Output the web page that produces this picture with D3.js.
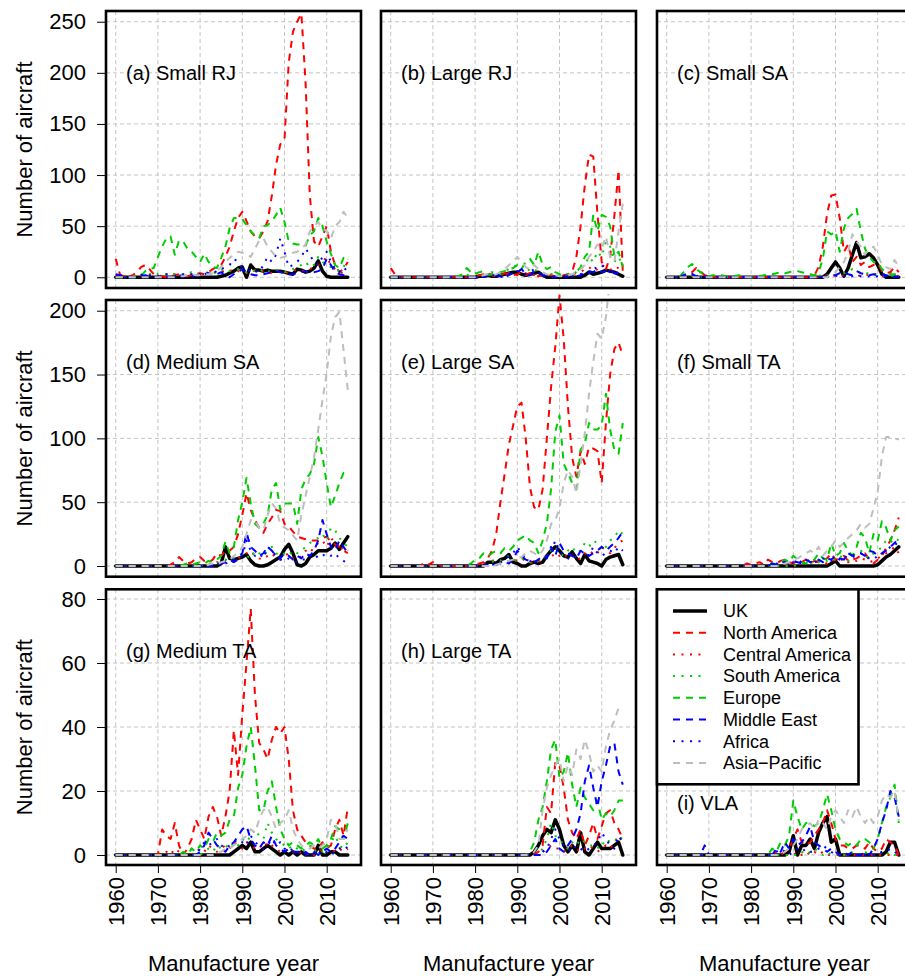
<!DOCTYPE html>
<html>
<head>
<meta charset="utf-8">
<script src="https://cdn.jsdelivr.net/npm/d3@7"></script>
<style>
  body { margin: 0; background: #fff; }
  svg { display: block; }
  text { font-family: "Liberation Sans", Arial, Helvetica, sans-serif; fill: #000; }
</style>
</head>
<body>
<svg id="chart" width="905" height="976"></svg>
<script>
// ---------------------------------------------------------------------------
// Aircraft manufactured per year, by operator region and aircraft size class
// ---------------------------------------------------------------------------
const years = [1960,1961,1962,1963,1964,1965,1966,1967,1968,1969,
               1970,1971,1972,1973,1974,1975,1976,1977,1978,1979,
               1980,1981,1982,1983,1984,1985,1986,1987,1988,1989,
               1990,1991,1992,1993,1994,1995,1996,1997,1998,1999,
               2000,2001,2002,2003,2004,2005,2006,2007,2008,2009,
               2010,2011,2012,2013,2014,2015];

const regions = ["UK", "North America", "Central America", "South America",
                 "Europe", "Middle East", "Africa", "Asia\u2212Pacific"];

const panelTitles = ["(a) Small RJ", "(b) Large RJ", "(c) Small SA",
                     "(d) Medium SA", "(e) Large SA", "(f) Small TA",
                     "(g) Medium TA", "(h) Large TA", "(i) VLA"];

const xTicks = [1960, 1970, 1980, 1990, 2000, 2010];
const yTicksTop = [0, 50, 100, 150, 200, 250];
const yTicksMiddle = [0, 50, 100, 150, 200];
const yTicksBottom = [0, 20, 40, 60, 80];

// Each class: one series per region, in the order of `regions`, 1960..2015
const smallRJ = [
  [0,0,0,0,0,0,0,0,0,0, 0,0,0,0,0,0,0,0,0,0, 0,0,0,0,0,1,2,4,6,9, 10,0,12,7,7,6,7,6,6,6, 5,4,3,8,7,5,6,9,16,6, 1,0,0,0,0,0],
  [18,3,0,0,2,5,10,12,8,3, 2,1,0,1,2,3,2,1,2,3, 4,3,5,8,10,12,20,30,45,58, 64,55,45,40,38,45,55,80,110,130, 135,210,240,250,258,190,80,35,30,40, 50,25,12,5,8,15],
  [2,3,1,0,0,1,2,3,2,1, 1,0,1,2,3,2,1,2,3,2, 4,3,5,4,6,5,7,6,8,6, 5,4,6,7,5,6,5,4,6,5, 4,5,6,8,6,7,8,10,12,15, 20,12,8,5,4,6],
  [0,0,0,0,1,2,3,2,3,5, 3,2,3,4,3,2,3,4,5,4, 3,5,4,3,6,8,5,6,7,8, 6,5,7,6,5,8,6,5,7,6, 5,6,8,10,12,15,10,12,20,15, 12,10,8,6,10,18],
  [0,0,0,0,0,0,1,6,8,9, 20,30,38,40,22,36,35,28,25,20, 15,23,15,10,9,19,30,48,58,58, 57,51,45,41,38,50,51,55,61,68, 54,35,33,32,32,31,41,45,58,50, 35,23,12,9,19,15],
  [3,2,1,0,0,0,1,2,1,0, 0,1,0,0,1,2,1,0,1,2, 2,3,4,3,3,5,2,0,3,5, 8,5,3,2,2,3,4,5,6,5, 4,3,3,4,5,6,4,5,6,8, 18,12,5,3,2,2],
  [1,0,0,0,0,1,2,3,2,1, 1,2,3,2,1,2,3,2,3,4, 3,5,4,6,5,8,10,12,18,15, 10,8,5,6,5,12,20,15,22,38, 25,10,12,15,20,28,22,15,12,20, 25,15,8,5,10,5],
  [0,0,0,0,0,0,0,0,0,0, 0,0,0,0,0,1,1,2,3,2, 2,3,3,4,6,10,15,19,22,25, 24,23,20,28,36,38,30,25,20,19, 20,22,24,25,28,32,45,50,54,48, 45,38,50,54,64,58]
];

const largeRJ = [
  [0,0,0,0,0,0,0,0,0,0, 0,0,0,0,0,0,0,0,0,0, 0,1,1,2,1,1,2,3,4,5, 5,3,2,3,4,5,2,0,0,0, 0,0,0,0,0,0,2,5,3,4, 5,7,6,5,3,1],
  [9,3,0,0,0,0,0,0,0,0, 0,0,0,0,0,0,0,0,0,0, 1,2,3,5,2,1,2,4,3,2, 3,5,2,4,3,1,2,3,2,1, 2,2,3,5,20,50,90,120,118,62, 15,8,20,60,105,5],
  [0,0,0,0,0,0,0,0,0,0, 0,0,0,0,0,0,0,0,0,0, 0,1,2,3,2,1,3,2,4,3, 2,3,4,3,2,1,2,1,2,3, 1,2,2,3,4,5,8,10,6,8, 12,10,8,6,10,8],
  [0,0,0,0,0,0,0,0,0,0, 0,0,0,0,0,0,0,0,2,3, 4,3,2,3,5,4,3,6,8,10, 12,8,10,6,8,5,3,2,3,4, 2,3,2,4,5,8,12,20,15,25, 20,35,30,15,20,12],
  [0,0,0,0,0,0,0,0,0,0, 0,0,0,0,0,0,1,3,9,5, 3,5,6,2,3,4,5,6,8,9, 12,8,15,18,12,25,12,8,10,5, 3,2,3,2,5,10,20,25,61,45, 61,59,50,20,25,10],
  [0,0,0,0,0,0,0,0,0,0, 0,0,0,0,0,0,0,0,0,0, 0,0,1,2,1,2,1,0,2,4, 5,8,3,2,6,4,2,1,0,1, 0,0,1,2,1,2,4,6,5,8, 5,6,8,4,3,1],
  [0,0,0,0,0,0,0,0,0,0, 0,0,0,0,0,0,0,0,0,0, 0,0,0,1,2,1,0,2,3,4, 6,4,3,5,8,5,3,2,1,0, 0,1,2,1,2,3,5,4,8,10, 12,8,5,6,4,2],
  [0,0,0,0,0,0,0,0,0,0, 0,0,0,0,0,0,0,0,0,0, 0,1,2,3,2,3,5,8,12,15, 20,15,10,8,12,8,5,3,2,2, 1,1,2,3,5,8,12,20,25,32, 28,40,20,15,45,72]
];

const smallSA = [
  [0,0,0,0,0,0,0,0,0,0, 0,0,0,0,0,0,0,0,0,0, 0,0,0,0,0,0,0,0,0,0, 0,0,0,0,0,0,0,0,3,9, 15,9,1,9,22,34,19,20,23,19, 12,3,0,0,0,0],
  [0,0,0,0,0,2,5,9,6,2, 1,0,0,0,0,0,0,0,0,0, 0,0,0,0,0,0,0,0,0,0, 0,0,0,0,0,2,10,30,62,80, 81,58,25,32,15,20,12,15,10,12, 14,6,4,5,10,5],
  [0,0,0,0,0,0,0,3,5,2, 0,0,0,0,0,0,0,0,0,0, 0,0,0,0,0,0,0,0,0,0, 0,0,0,0,0,0,0,1,2,1, 2,1,2,3,2,1,2,3,2,4, 2,1,2,5,2,1],
  [0,0,0,0,0,2,1,0,0,0, 0,0,0,0,0,0,0,0,0,0, 0,0,0,0,0,0,0,0,0,0, 0,0,0,0,0,0,1,3,2,1, 2,3,4,5,8,6,4,5,3,2, 2,3,3,2,1,1],
  [0,0,0,0,5,10,13,8,5,2, 1,2,1,2,1,0,1,2,1,0, 0,0,1,2,3,3,4,5,4,5, 6,6,5,4,3,2,5,18,45,42, 45,25,48,58,62,67,45,28,20,15, 15,8,5,3,3,3],
  [0,0,0,0,2,4,3,1,2,1, 0,0,0,0,0,0,0,0,0,0, 0,0,0,0,0,0,0,0,0,0, 0,0,0,0,0,0,0,0,1,2, 2,4,5,3,2,6,4,3,2,3, 2,3,2,1,1,0],
  [0,0,0,0,0,1,3,1,0,0, 0,0,0,0,0,0,0,0,0,0, 0,0,0,0,0,0,0,0,0,0, 0,0,0,0,0,0,0,0,0,1, 1,3,1,0,1,2,1,0,1,0, 1,0,1,0,0,0],
  [0,0,0,0,0,0,0,0,0,0, 0,0,0,0,0,0,0,0,0,0, 0,0,0,0,0,0,0,0,0,0, 0,0,0,0,0,0,0,0,0,2, 5,10,15,25,42,35,30,22,28,30, 22,12,10,8,17,10]
];

const mediumSA = [
  [0,0,0,0,0,0,0,0,0,0, 0,0,0,0,0,0,0,0,0,0, 0,0,0,0,0,2,15,6,5,6, 7,9,4,1,0,0,1,3,5,7, 13,17,10,1,0,2,7,9,12,12, 12,14,18,13,18,23],
  [0,0,0,0,0,0,0,0,0,0, 0,0,0,1,3,7,4,2,3,6, 7,4,3,5,10,8,12,12,15,25, 40,57,44,36,30,26,33,38,44,43, 33,31,27,23,22,21,20,20,20,22, 23,19,17,15,12,10],
  [0,0,0,0,0,0,0,0,0,0, 0,0,0,0,0,0,0,0,0,0, 0,1,2,1,3,2,4,5,3,6, 8,10,12,8,6,5,8,10,6,5, 8,10,6,5,8,12,10,15,18,20, 15,22,18,12,15,12],
  [0,0,0,0,0,0,0,0,0,0, 0,0,0,0,0,0,0,0,0,0, 0,1,1,2,2,3,5,4,6,8, 10,8,6,12,10,8,12,15,10,8, 10,12,8,10,12,15,18,20,22,25, 20,30,28,22,18,15],
  [0,0,0,0,0,0,0,0,0,0, 0,0,0,0,0,0,1,2,1,2, 3,2,4,3,5,8,19,10,15,36, 50,69,49,33,30,33,40,60,65,44, 49,49,49,33,60,68,72,80,101,86, 65,46,55,65,73,70],
  [0,0,0,0,0,0,0,0,0,0, 0,0,0,0,0,0,0,0,0,0, 0,0,0,0,1,2,3,5,3,5, 10,26,15,12,8,10,15,12,8,6, 10,8,5,8,6,10,8,12,20,36, 25,15,12,20,15,10],
  [0,0,0,0,0,0,0,0,0,0, 0,0,0,0,0,0,0,0,0,0, 0,0,0,1,2,1,2,3,5,6, 8,20,12,8,10,6,15,12,8,5, 4,6,5,3,5,5,8,10,6,8, 10,8,10,6,4,2],
  [0,0,0,0,0,0,0,0,0,0, 0,0,0,0,0,0,0,0,0,0, 0,0,1,2,1,3,4,5,8,10, 15,25,36,36,30,28,40,49,45,33, 30,28,24,20,40,55,70,85,107,130, 151,180,195,199,169,138]
];

const largeSA = [
  [0,0,0,0,0,0,0,0,0,0, 0,0,0,0,0,0,0,0,0,0, 0,0,0,3,3,2,5,6,9,3, 2,0,0,2,3,2,3,8,12,15, 12,8,7,11,6,2,9,4,3,2, 0,5,7,8,9,1],
  [0,0,0,0,0,0,0,0,3,1, 3,2,0,0,0,0,0,0,0,0, 1,2,3,6,12,25,50,72,95,110, 125,128,100,62,46,44,60,100,140,172, 212,178,125,85,70,90,80,93,92,90, 65,112,150,170,175,165],
  [0,0,0,0,0,0,0,0,0,0, 0,0,0,0,0,0,0,0,0,0, 0,1,2,3,4,5,3,2,4,3, 5,6,4,3,2,3,5,8,10,6, 8,10,6,8,5,6,10,8,12,10, 15,12,10,14,18,20],
  [0,0,0,0,0,0,0,0,0,0, 0,0,0,0,0,0,0,0,0,0, 0,0,1,2,3,5,4,6,8,5, 4,6,5,3,2,4,6,8,12,15, 10,8,12,15,10,12,18,15,20,18, 12,15,20,22,28,25],
  [0,0,0,0,0,0,0,0,0,0, 0,0,0,0,0,0,0,0,0,2, 5,6,10,8,10,12,10,14,12,15, 20,22,24,20,18,10,20,33,60,105, 118,80,73,65,60,91,96,112,107,107, 110,135,107,91,88,112],
  [0,0,0,0,0,0,0,0,0,0, 0,0,0,0,0,0,0,0,0,0, 0,0,0,1,2,1,2,3,2,5, 12,8,5,4,3,5,8,6,15,8, 18,12,10,8,6,12,10,8,10,12, 15,12,15,18,22,27],
  [0,0,0,0,0,0,0,0,0,0, 0,0,0,0,0,0,0,0,0,0, 0,0,1,2,1,2,3,4,8,10, 15,10,6,4,3,5,6,8,10,20, 12,8,6,5,8,10,12,8,15,10, 8,10,12,10,15,12],
  [0,0,0,0,0,0,0,0,0,0, 0,0,0,0,0,0,0,0,0,0, 0,0,0,0,0,1,2,3,4,5, 6,7,10,12,10,8,12,20,33,36, 45,65,75,70,57,80,104,135,160,182, 178,195,225,260,280,300]
];

const smallTA = [
  [0,0,0,0,0,0,0,0,0,0, 0,0,0,0,0,0,0,0,0,0, 0,0,0,0,0,0,0,0,0,0, 0,0,0,0,0,0,0,0,0,2, 4,0,0,0,0,0,0,0,0,0, 1,4,7,9,12,15],
  [0,0,0,0,0,0,0,0,0,0, 0,0,0,0,0,0,0,0,0,2, 1,2,3,1,5,3,2,4,5,3, 2,4,3,5,2,4,3,5,6,10, 5,6,8,4,5,6,8,10,5,2, 5,8,14,20,28,38],
  [0,0,0,0,0,0,0,0,0,0, 0,0,0,0,0,0,0,0,0,0, 0,0,0,0,0,0,0,0,1,0, 0,1,2,1,3,2,4,3,2,3, 5,4,6,3,5,4,6,5,3,4, 6,8,10,12,15,10],
  [0,0,0,0,0,0,0,0,0,0, 0,0,0,0,0,0,0,0,0,0, 0,0,0,0,0,0,0,0,0,0, 0,1,2,3,2,4,3,5,4,6, 5,8,6,4,8,10,12,8,6,10, 12,15,20,18,22,20],
  [0,0,0,0,0,0,0,0,0,0, 0,0,0,0,0,0,0,0,0,0, 0,0,0,0,0,2,1,3,5,3, 8,5,3,2,4,5,10,6,5,18, 8,10,18,12,8,15,26,22,10,25, 20,35,30,20,28,31],
  [0,0,0,0,0,0,0,0,0,0, 0,0,0,0,0,0,0,0,0,0, 0,0,0,0,1,2,1,3,3,2, 4,3,2,5,3,4,5,3,6,5, 8,6,5,10,8,10,10,8,12,11, 8,10,12,15,18,22],
  [0,0,0,0,0,0,0,0,0,0, 0,0,0,0,0,0,0,0,0,0, 0,0,0,0,1,0,2,1,3,2, 3,2,4,3,5,3,4,6,5,4, 6,5,8,6,7,8,10,8,6,5, 8,10,12,15,18,16],
  [0,0,0,0,0,0,0,0,0,0, 0,0,0,0,0,0,0,0,0,0, 0,0,0,0,0,0,0,1,2,3, 5,6,8,10,12,10,15,8,12,15, 20,15,18,22,25,28,33,30,33,45, 58,86,101,101,100,99]
];

const mediumTA = [
  [0,0,0,0,0,0,0,0,0,0, 0,0,0,0,0,0,0,0,0,0, 0,0,0,0,0,0,0,0,1,2, 3,2,4,1,1,2,3,2,1,0, 1,0,1,0,1,0,0,0,3,0, 0,1,1,0,0,0],
  [0,0,0,0,0,0,0,0,0,0, 0,8,6,5,10,3,0,2,5,11, 8,5,12,15,12,6,12,20,39,25, 44,60,77,50,35,33,30,36,40,38, 40,30,14,8,6,4,3,2,2,4, 2,3,8,11,6,15],
  [0,0,0,0,0,0,0,0,0,0, 0,0,1,0,2,1,0,1,2,1, 2,1,3,2,1,2,3,2,4,3, 2,4,3,2,3,2,4,3,2,1, 1,2,1,0,1,0,1,0,1,2, 3,2,1,2,1,2],
  [0,0,0,0,0,0,0,0,0,0, 0,0,0,0,0,0,0,0,0,0, 0,1,2,1,3,2,3,2,4,3, 5,4,6,8,6,5,10,7,5,4, 3,2,3,2,1,2,3,1,2,1, 2,4,6,3,2,4],
  [0,0,0,0,0,0,0,0,0,0, 0,0,0,0,0,0,1,0,2,1, 3,2,5,4,7,6,7,11,12,21, 25,34,40,28,14,14,20,23,15,8, 5,3,4,3,2,3,4,3,5,2, 3,5,9,8,5,10],
  [0,0,0,0,0,0,0,0,0,0, 0,0,0,0,0,0,0,0,0,0, 1,3,7,5,3,2,1,3,4,6, 8,9,5,3,2,4,3,6,3,2, 1,2,1,1,0,1,0,1,0,1, 2,1,2,4,6,5],
  [0,0,0,0,0,0,0,0,0,0, 0,0,0,0,0,0,0,0,0,0, 2,4,3,4,5,3,2,3,4,5, 4,3,6,4,3,2,3,5,3,4, 2,1,2,1,1,0,1,0,1,0, 1,0,1,2,3,2],
  [0,0,0,0,0,0,0,0,0,0, 0,0,0,0,0,0,0,0,0,0, 0,0,0,0,1,1,2,2,3,4, 5,6,8,7,11,14,15,12,8,10, 11,14,8,5,3,2,2,3,2,3, 5,11,10,5,5,8]
];

const largeTA = [
  [0,0,0,0,0,0,0,0,0,0, 0,0,0,0,0,0,0,0,0,0, 0,0,0,0,0,0,0,0,0,0, 0,0,0,0,1,3,6,8,7,11, 8,3,1,3,1,7,1,0,2,4, 2,2,2,3,4,0],
  [0,0,0,0,0,0,0,0,0,0, 0,0,0,0,0,0,0,0,0,0, 0,0,0,0,0,0,0,0,0,0, 0,0,0,0,0,1,3,15,13,29, 28,21,11,7,5,8,3,6,10,5, 9,13,14,10,8,5],
  [0,0,0,0,0,0,0,0,0,0, 0,0,0,0,0,0,0,0,0,0, 0,0,0,0,0,0,0,0,0,0, 0,0,0,0,0,0,1,2,3,2, 2,1,2,3,2,1,2,3,2,1, 2,3,2,4,6,4],
  [0,0,0,0,0,0,0,0,0,0, 0,0,0,0,0,0,0,0,0,0, 0,0,0,0,0,0,0,0,0,0, 0,0,0,0,0,0,2,5,10,6, 5,3,2,4,3,5,4,3,3,2, 4,3,5,5,4,6],
  [0,0,0,0,0,0,0,0,0,0, 0,0,0,0,0,0,0,0,0,0, 0,0,0,0,0,0,0,0,0,0, 0,0,0,1,4,11,15,23,33,36, 24,26,32,22,15,21,18,16,14,17, 11,13,12,14,17,17],
  [0,0,0,0,0,0,0,0,0,0, 0,0,0,0,0,0,0,0,0,0, 0,0,0,0,0,0,0,0,0,0, 0,0,0,0,0,0,0,1,3,5, 2,1,3,5,8,13,23,28,21,15, 23,28,34,35,26,22],
  [0,0,0,0,0,0,0,0,0,0, 0,0,0,0,0,0,0,0,0,0, 0,0,0,0,0,0,0,0,0,0, 0,0,0,0,0,0,1,2,5,8, 5,3,2,1,3,2,1,2,3,4, 7,5,3,2,6,4],
  [0,0,0,0,0,0,0,0,0,0, 0,0,0,0,0,0,0,0,0,0, 0,0,0,0,0,0,0,0,0,0, 0,0,0,0,1,3,14,21,25,28, 30,23,28,25,33,30,36,32,26,28, 26,34,39,42,46,46]
];

const vla = [
  [0,0,0,0,0,0,0,0,0,0, 0,0,0,0,0,0,0,0,0,0, 0,0,0,0,0,0,0,0,0,1, 6,0,3,3,5,2,7,10,12,4, 5,0,0,0,0,0,0,0,0,0, 0,0,1,4,4,0],
  [0,0,0,0,0,0,0,0,0,0, 0,0,0,0,0,0,0,0,0,0, 0,0,0,0,0,0,1,0,1,2, 5,8,4,3,4,6,8,10,14,10, 5,3,3,2,2,3,3,2,4,2, 1,2,5,4,3,0],
  [0,0,0,0,0,0,0,0,0,0, 0,0,0,0,0,0,0,0,0,0, 0,0,0,0,0,0,0,0,0,0, 0,1,0,1,0,1,0,1,0,0, 0,0,0,0,0,0,0,0,0,0, 0,0,0,0,0,0],
  [0,0,0,0,0,0,0,0,0,0, 0,0,0,0,0,0,0,0,0,0, 0,0,0,0,0,0,0,0,0,0, 0,0,1,0,1,2,1,0,1,0, 0,1,0,0,1,0,0,1,0,0, 0,1,0,1,0,0],
  [0,0,0,0,0,0,0,0,0,0, 0,0,0,0,0,0,0,0,0,0, 0,0,0,0,0,2,1,4,3,6, 17,12,8,10,10,9,10,14,19,14, 8,5,4,3,4,3,5,5,4,2, 5,10,15,18,22,10],
  [0,0,0,0,0,0,0,0,0,3, 0,0,0,0,0,0,0,0,0,0, 0,0,0,0,0,0,2,1,4,2, 5,3,4,6,9,4,3,2,1,2, 1,0,1,0,1,0,0,1,0,2, 5,10,14,20,18,12],
  [0,0,0,0,0,0,0,0,0,0, 0,0,0,0,0,0,0,0,0,0, 0,0,0,0,0,0,1,2,1,0, 1,2,1,2,1,1,2,3,2,1, 0,0,0,0,0,0,0,0,0,0, 0,1,1,2,1,0],
  [0,0,0,0,0,0,0,0,0,0, 0,0,0,0,0,0,0,0,0,0, 0,0,0,0,0,0,0,0,1,2, 3,5,8,9,10,8,11,10,8,12, 14,12,10,14,12,15,12,10,12,10, 12,17,19,18,20,11]
];

const panelSeries = [smallRJ, largeRJ, smallSA, mediumSA, largeSA, smallTA, mediumTA, largeTA, vla];

// ---------------------------------------------------------------------------
// Styling: line colour, dash pattern and width per region
// ---------------------------------------------------------------------------
const regionColor = ["#000000", "#FF0000", "#FF0000", "#00CD00", "#00CD00", "#0000FF", "#0000FF", "#BEBEBE"];
const regionDash  = [null, "7,6", "2,6.5", "2,6.5", "7,6", "7,6", "2,6.5", "7,6"];
const regionWidth = [3.5, 2, 2, 2, 2, 2, 2, 2, 2];

// ---------------------------------------------------------------------------
// Layout of the 3 x 3 grid of panels
// ---------------------------------------------------------------------------
const colLeft = [106, 381, 657];
const panelWidth = 255;
const xDomain = [1957.7, 2018.13];
const rowLayout = [
  { top: 11,    bottom: 288,   domain: [-10.5, 260.5],  ticks: yTicksTop,    clip: [0, 294] },
  { top: 300,   bottom: 576.7, domain: [-8.38, 208.4],  ticks: yTicksMiddle, clip: [294, 583] },
  { top: 589.3, bottom: 865,   domain: [-3.125, 83.03], ticks: yTicksBottom, clip: [583, 872] }
];
const colClip = [[55, 371], [371, 646], [646, 905]];
const fontSize = 22;

const svg = d3.select("#chart");
const defs = svg.append("defs");

panelSeries.forEach((series, p) => {
  const col = p % 3, row = Math.floor(p / 3);
  const R = rowLayout[row];
  const left = colLeft[col], right = left + panelWidth;

  const x = d3.scaleLinear().domain(xDomain).range([left, right]);
  const y = d3.scaleLinear().domain(R.domain).range([R.bottom, R.top]);

  const g = svg.append("g").attr("class", "panel");

  // grid
  const grid = g.append("g").attr("class", "grid")
    .attr("stroke", "#c4c4c4").attr("stroke-width", 1).attr("stroke-dasharray", "4,3");
  grid.selectAll("line.v").data(xTicks).join("line").attr("class", "v")
    .attr("x1", d => x(d)).attr("x2", d => x(d))
    .attr("y1", R.top).attr("y2", R.bottom);
  grid.selectAll("line.h").data(R.ticks).join("line").attr("class", "h")
    .attr("x1", left).attr("x2", right)
    .attr("y1", d => y(d)).attr("y2", d => y(d));

  // series lines, clipped to the panel's figure region
  const clipId = "clip" + p;
  defs.append("clipPath").attr("id", clipId).append("rect")
    .attr("x", colClip[col][0]).attr("y", R.clip[0])
    .attr("width", colClip[col][1] - colClip[col][0])
    .attr("height", R.clip[1] - R.clip[0]);

  const line = d3.line().x((d, i) => x(years[i])).y(d => y(d));
  g.append("g").attr("clip-path", `url(#${clipId})`)
    .selectAll("path").data(series).join("path")
    .attr("d", d => line(d))
    .attr("fill", "none")
    .attr("stroke", (d, i) => regionColor[i])
    .attr("stroke-width", (d, i) => regionWidth[i])
    .attr("stroke-dasharray", (d, i) => regionDash[i])
    .attr("stroke-linejoin", "round")
    .attr("stroke-linecap", (d, i) => i === 0 ? "round" : "butt");

  // frame
  g.append("rect").attr("x", left).attr("y", R.top)
    .attr("width", panelWidth).attr("height", R.bottom - R.top)
    .attr("fill", "none").attr("stroke", "#000").attr("stroke-width", 2.6);

  // panel title
  const labelFrac = p === 8 ? 0.774 : 0.225;
  g.append("text")
    .attr("x", left + 20)
    .attr("y", R.top + labelFrac * (R.bottom - R.top))
    .attr("dy", "0.35em")
    .attr("font-size", 20)
    .text(panelTitles[p]);

  // y axis on the left column
  if (col === 0) {
    const ya = g.append("g").attr("transform", `translate(${left},0)`)
      .call(d3.axisLeft(y).tickValues(R.ticks).tickSize(9).tickPadding(11));
    ya.select(".domain").remove();
    ya.selectAll("text").attr("font-size", fontSize).attr("font-family", null).attr("fill", "#000");
    ya.selectAll("line").attr("stroke", "#000");
    ya.attr("font-family", null);

    svg.append("text")
      .attr("transform", `translate(32,${(R.top + R.bottom) / 2}) rotate(-90)`)
      .attr("text-anchor", "middle")
      .attr("font-size", fontSize)
      .text("Number of aircraft");
  }

  // x axis on the bottom row
  if (row === 2) {
    const xa = g.append("g").attr("transform", `translate(0,${R.bottom})`)
      .call(d3.axisBottom(x).tickValues(xTicks).tickFormat(d3.format("d")).tickSize(8));
    xa.select(".domain").remove();
    xa.selectAll("line").attr("stroke", "#000");
    xa.attr("font-family", null);
    xa.selectAll("text")
      .attr("font-size", fontSize).attr("font-family", null).attr("fill", "#000")
      .attr("transform", "rotate(-90)")
      .attr("text-anchor", "end")
      .attr("x", -12).attr("y", 0).attr("dy", "0.35em");

    svg.append("text")
      .attr("x", (left + right) / 2).attr("y", 971)
      .attr("text-anchor", "middle")
      .attr("font-size", fontSize)
      .text("Manufacture year");
  }
});

// ---------------------------------------------------------------------------
// Legend, in the top-left corner of panel (i)
// ---------------------------------------------------------------------------
const legendX = colLeft[2], legendY = rowLayout[2].top;
const legend = svg.append("g").attr("transform", `translate(${legendX},${legendY})`);
legend.append("rect").attr("x", 0).attr("y", 0).attr("width", 201.5).attr("height", 195)
  .attr("fill", "#fff").attr("stroke", "#000").attr("stroke-width", 2.6);
const item = legend.selectAll("g.item").data(regions).join("g").attr("class", "item")
  .attr("transform", (d, i) => `translate(0,${21.7 + i * 21.7})`);
item.append("line")
  .attr("x1", 16).attr("x2", 50).attr("y1", 0).attr("y2", 0)
  .attr("stroke", (d, i) => regionColor[i])
  .attr("stroke-width", (d, i) => regionWidth[i])
  .attr("stroke-dasharray", (d, i) => regionDash[i]);
item.append("text")
  .attr("x", 66).attr("y", 0).attr("dy", "0.35em")
  .attr("font-size", 18)
  .text(d => d);
</script>
</body>
</html>
